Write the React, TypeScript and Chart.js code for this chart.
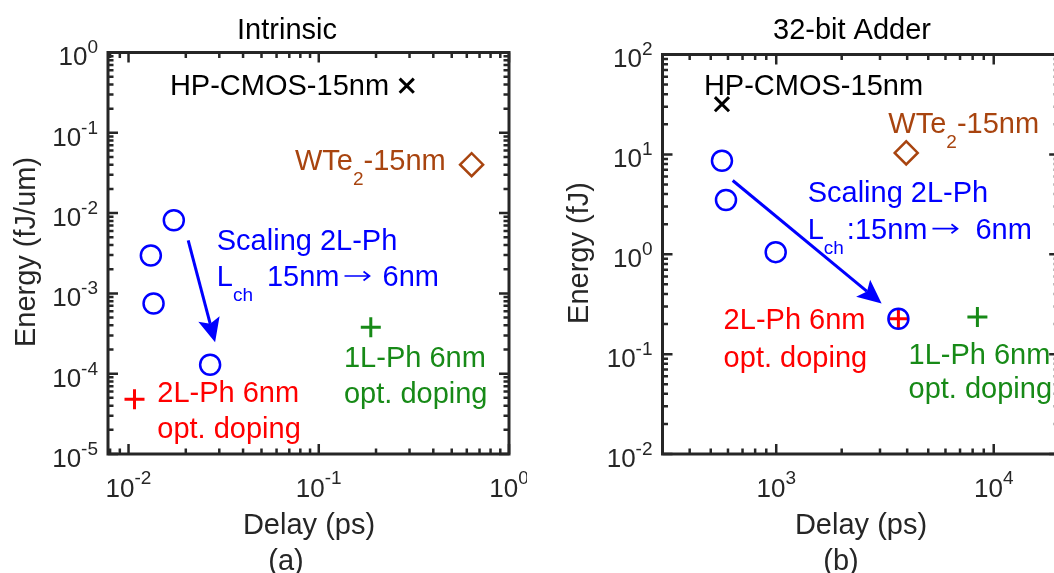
import React, { useEffect, useRef } from "react";
import { Chart, registerables } from "chart.js";

Chart.register(...registerables);

const FONT = '"Liberation Sans", Arial, Helvetica, sans-serif';
const INK = "#262626";
const BLUE = "#0000ff";
const RED = "#ff0000";
const GREEN = "#178a17";
const BROWN = "#a8440f";

// ---------- Panel (a): Intrinsic ----------
const A_DELAY_RANGE = [0.0078, 1];
const A_ENERGY_RANGE = [1e-5, 1];
const A_DELAY_TICKS = [1e-2, 1e-1, 1];
const A_ENERGY_TICKS = [1e-5, 1e-4, 1e-3, 1e-2, 1e-1, 1];
const A_SCALING_DELAY = [0.0173, 0.0131, 0.01354, 0.02685];
const A_SCALING_ENERGY = [0.00816, 0.002965, 0.000748, 0.0001294];
const A_CMOS_DELAY = [0.29];
const A_CMOS_ENERGY = [0.386];
const A_WTE2_DELAY = [0.636];
const A_WTE2_ENERGY = [0.0401];
const A_2LPH_OPT_DELAY = [0.01075];
const A_2LPH_OPT_ENERGY = [4.8e-5];
const A_1LPH_OPT_DELAY = [0.1877];
const A_1LPH_OPT_ENERGY = [3.8e-4];
const A_ARROW_FROM = [0.02059, 0.00458];
const A_ARROW_TO = [0.02851, 0.000247];

// ---------- Panel (b): 32-bit Adder ----------
const B_DELAY_RANGE = [300, 2e4];
const B_ENERGY_RANGE = [1e-2, 1e2];
const B_DELAY_TICKS = [1e3, 1e4];
const B_ENERGY_TICKS = [1e-2, 1e-1, 1, 1e1, 1e2];
const B_SCALING_DELAY = [563, 587.5, 994.5, 3645];
const B_SCALING_ENERGY = [8.64, 3.49, 1.05, 0.2263];
const B_CMOS_DELAY = [563];
const B_CMOS_ENERGY = [31.8];
const B_WTE2_DELAY = [3960];
const B_WTE2_ENERGY = [10.35];
const B_2LPH_OPT_DELAY = [3645];
const B_2LPH_OPT_ENERGY = [0.2263];
const B_1LPH_OPT_DELAY = [8413];
const B_1LPH_OPT_ENERGY = [0.2353];
const B_ARROW_FROM = [630.8, 5.475];
const B_ARROW_TO = [3052, 0.3212];

type Seg = { t: string; sub?: boolean; arrow?: boolean; dx?: number };
type Note = { at: number[]; segs: Seg[]; color: string };

const A_NOTES: Note[] = [
  { at: [0.0165, 0.297], segs: [{ t: "HP-CMOS-15nm" }], color: "#000" },
  { at: [0.075, 0.0347], segs: [{ t: "WTe" }, { t: "2", sub: true }, { t: "-15nm" }], color: BROWN },
  { at: [0.0291, 0.00352], segs: [{ t: "Scaling 2L-Ph" }], color: BLUE },
  {
    at: [0.0291, 0.001236],
    segs: [{ t: "L" }, { t: "ch", sub: true }, { t: "15nm", dx: 14 }, { t: "", arrow: true, dx: 5 }, { t: "6nm", dx: 13 }],
    color: BLUE,
  },
  { at: [0.01416, 4.48e-5], segs: [{ t: "2L-Ph 6nm" }], color: RED },
  { at: [0.01416, 1.58e-5], segs: [{ t: "opt. doping" }], color: RED },
  { at: [0.1357, 1.22e-4], segs: [{ t: "1L-Ph 6nm" }], color: GREEN },
  { at: [0.1357, 4.35e-5], segs: [{ t: "opt. doping" }], color: GREEN },
];

const B_NOTES: Note[] = [
  { at: [465, 39.5], segs: [{ t: "HP-CMOS-15nm" }], color: "#000" },
  { at: [3276, 16.4], segs: [{ t: "WTe" }, { t: "2", sub: true }, { t: "-15nm" }], color: BROWN },
  { at: [1395, 3.36], segs: [{ t: "Scaling 2L-Ph" }], color: BLUE },
  {
    at: [1395, 1.431],
    segs: [{ t: "L" }, { t: "ch", sub: true }, { t: ":15nm", dx: 3 }, { t: "", arrow: true, dx: 5 }, { t: "6nm", dx: 18 }],
    color: BLUE,
  },
  { at: [573, 0.1797], segs: [{ t: "2L-Ph 6nm" }], color: RED },
  { at: [573, 0.0748], segs: [{ t: "opt. doping" }], color: RED },
  { at: [4057, 0.0796], segs: [{ t: "1L-Ph 6nm" }], color: GREEN },
  { at: [4057, 0.0367], segs: [{ t: "opt. doping" }], color: GREEN },
];

const TEXT_SIZE = 29;
const SUB_SIZE = 19;
const TICK_SIZE = 26;
const SUP_SIZE = 19;

function pts(xs: number[], ys: number[]) {
  return xs.map((x, i) => ({ x, y: ys[i] }));
}

function marker(data: any[], style: string, color: string, radius: number, bw: number) {
  return {
    data,
    pointStyle: style,
    pointRadius: radius,
    pointHoverRadius: radius,
    borderColor: color,
    pointBorderColor: color,
    backgroundColor: "rgba(0,0,0,0)",
    pointBackgroundColor: "rgba(0,0,0,0)",
    pointBorderWidth: bw,
    pointHoverBorderWidth: bw,
    showLine: false,
    clip: false,
  };
}

function logTicks(range: number[]) {
  const out: { v: number; major: boolean }[] = [];
  const d0 = Math.floor(Math.log10(range[0]));
  const d1 = Math.ceil(Math.log10(range[1]));
  for (let d = d0; d <= d1; d++) {
    for (let k = 1; k <= 9; k++) {
      const v = k * Math.pow(10, d);
      if (v >= range[0] * 0.9999 && v <= range[1] * 1.0001) out.push({ v, major: k === 1 });
    }
  }
  return out;
}

function drawRich(ctx: CanvasRenderingContext2D, segs: Seg[], x: number, y: number, color: string) {
  ctx.fillStyle = color;
  ctx.strokeStyle = color;
  ctx.textAlign = "left";
  ctx.textBaseline = "alphabetic";
  let cx = x;
  for (const s of segs) {
    cx += s.dx || 0;
    if (s.arrow) {
      const len = 25;
      const ay = y - 10;
      ctx.lineWidth = 1.7;
      ctx.beginPath();
      ctx.moveTo(cx, ay);
      ctx.lineTo(cx + len, ay);
      ctx.moveTo(cx + len - 6, ay - 4.5);
      ctx.lineTo(cx + len, ay);
      ctx.lineTo(cx + len - 6, ay + 4.5);
      ctx.stroke();
      cx += len;
      continue;
    }
    ctx.font = `${s.sub ? SUB_SIZE : TEXT_SIZE}px ${FONT}`;
    ctx.fillText(s.t, cx, s.sub ? y + 15 : y);
    cx += ctx.measureText(s.t).width;
  }
}

function powerLabel(ctx: CanvasRenderingContext2D, v: number, x: number, baseY: number, supY: number, align: "center" | "right") {
  const exp = String(Math.round(Math.log10(v)));
  ctx.font = `${TICK_SIZE}px ${FONT}`;
  const wb = ctx.measureText("10").width;
  ctx.font = `${SUP_SIZE}px ${FONT}`;
  const ws = ctx.measureText(exp).width;
  const total = wb + ws;
  const left = align === "center" ? x - total / 2 : x - total;
  ctx.fillStyle = INK;
  ctx.textAlign = "left";
  ctx.textBaseline = "alphabetic";
  ctx.font = `${TICK_SIZE}px ${FONT}`;
  ctx.fillText("10", left, baseY);
  ctx.font = `${SUP_SIZE}px ${FONT}`;
  ctx.fillText(exp, left + wb, supY);
}

function drawArrow(ctx: CanvasRenderingContext2D, x0: number, y0: number, x1: number, y1: number, color: string) {
  const ang = Math.atan2(y1 - y0, x1 - x0);
  const c = Math.cos(ang), s = Math.sin(ang);
  const hl = 24, hw = 11, notch = 5;
  const bx = x1 - hl * c, by = y1 - hl * s;
  ctx.strokeStyle = color;
  ctx.fillStyle = color;
  ctx.lineWidth = 3;
  ctx.beginPath();
  ctx.moveTo(x0, y0);
  ctx.lineTo(bx + notch * c, by + notch * s);
  ctx.stroke();
  ctx.beginPath();
  ctx.moveTo(x1, y1);
  ctx.lineTo(bx - hw * s, by + hw * c);
  ctx.lineTo(bx + notch * c, by + notch * s);
  ctx.lineTo(bx + hw * s, by - hw * c);
  ctx.closePath();
  ctx.fill();
}

type Panel = {
  xRange: number[];
  yRange: number[];
  xTicks: number[];
  yTicks: number[];
  datasets: any[];
  notes: Note[];
  arrowFrom: number[];
  arrowTo: number[];
  title: string;
  xLabel: string;
  yLabel: string;
  tag: string;
  width: number;
  pad: { left: number; right: number; top: number; bottom: number };
  titleAt: number[];
  xLabelAt: number[];
  tagAt: number[];
  yLabelAt: number[];
};

function makeDecor(p: Panel) {
  return {
    id: "decor",
    beforeDatasetsDraw(chart: any) {
      const ctx: CanvasRenderingContext2D = chart.ctx;
      const { left, right, top, bottom } = chart.chartArea;
      const xs = chart.scales.x, ys = chart.scales.y;
      ctx.save();
      ctx.strokeStyle = INK;
      ctx.lineWidth = 2.5;
      ctx.lineCap = "butt";
      ctx.beginPath();
      for (const { v, major } of logTicks(p.xRange)) {
        const px = xs.getPixelForValue(v);
        const L = major ? 10 : 5.5;
        ctx.moveTo(px, bottom);
        ctx.lineTo(px, bottom - L);
        ctx.moveTo(px, top);
        ctx.lineTo(px, top + L);
      }
      for (const { v, major } of logTicks(p.yRange)) {
        const py = ys.getPixelForValue(v);
        const L = major ? 10 : 5.5;
        ctx.moveTo(left, py);
        ctx.lineTo(left + L, py);
        ctx.moveTo(right, py);
        ctx.lineTo(right - L, py);
      }
      ctx.stroke();
      ctx.lineWidth = 3;
      ctx.strokeRect(left, top, right - left, bottom - top);

      for (const v of p.xTicks) {
        const px = xs.getPixelForValue(v);
        powerLabel(ctx, v, px, bottom + 42.7, bottom + 29.5, "center");
      }
      for (const v of p.yTicks) {
        const py = ys.getPixelForValue(v);
        powerLabel(ctx, v, left - 10, py + 12.8, py + 0.8, "right");
      }

      ctx.fillStyle = "#000";
      ctx.font = `${TEXT_SIZE}px ${FONT}`;
      ctx.textAlign = "center";
      ctx.textBaseline = "alphabetic";
      ctx.fillText(p.title, p.titleAt[0], p.titleAt[1]);
      ctx.fillStyle = INK;
      ctx.fillText(p.xLabel, p.xLabelAt[0], p.xLabelAt[1]);
      ctx.fillText(p.tag, p.tagAt[0], p.tagAt[1]);
      ctx.save();
      ctx.translate(p.yLabelAt[0], p.yLabelAt[1]);
      ctx.rotate(-Math.PI / 2);
      ctx.fillText(p.yLabel, 0, 0);
      ctx.restore();
      ctx.restore();
    },
    afterDatasetsDraw(chart: any) {
      const ctx: CanvasRenderingContext2D = chart.ctx;
      const xs = chart.scales.x, ys = chart.scales.y;
      ctx.save();
      drawArrow(
        ctx,
        xs.getPixelForValue(p.arrowFrom[0]),
        ys.getPixelForValue(p.arrowFrom[1]),
        xs.getPixelForValue(p.arrowTo[0]),
        ys.getPixelForValue(p.arrowTo[1]),
        BLUE
      );
      for (const n of p.notes) {
        drawRich(ctx, n.segs, xs.getPixelForValue(n.at[0]), ys.getPixelForValue(n.at[1]), n.color);
      }
      ctx.restore();
    },
  };
}

const PANEL_A: Panel = {
  xRange: A_DELAY_RANGE,
  yRange: A_ENERGY_RANGE,
  xTicks: A_DELAY_TICKS,
  yTicks: A_ENERGY_TICKS,
  datasets: [
    marker(pts(A_SCALING_DELAY, A_SCALING_ENERGY), "circle", BLUE, 10, 2.5),
    marker(pts(A_CMOS_DELAY, A_CMOS_ENERGY), "crossRot", "#000", 10, 3),
    marker(pts(A_WTE2_DELAY, A_WTE2_ENERGY), "rectRot", BROWN, 11.5, 2.5),
    marker(pts(A_2LPH_OPT_DELAY, A_2LPH_OPT_ENERGY), "cross", RED, 10, 3),
    marker(pts(A_1LPH_OPT_DELAY, A_1LPH_OPT_ENERGY), "cross", GREEN, 10, 3),
  ],
  notes: A_NOTES,
  arrowFrom: A_ARROW_FROM,
  arrowTo: A_ARROW_TO,
  title: "Intrinsic",
  xLabel: "Delay (ps)",
  yLabel: "Energy (fJ/um)",
  tag: "(a)",
  width: 527,
  pad: { left: 108, right: 18, top: 52.5, bottom: 119 },
  titleAt: [287, 38.5],
  xLabelAt: [309, 534],
  tagAt: [286, 569.5],
  yLabelAt: [35, 252],
};

const PANEL_B: Panel = {
  xRange: B_DELAY_RANGE,
  yRange: B_ENERGY_RANGE,
  xTicks: B_DELAY_TICKS,
  yTicks: B_ENERGY_TICKS,
  datasets: [
    marker(pts(B_SCALING_DELAY, B_SCALING_ENERGY), "circle", BLUE, 10, 2.5),
    marker(pts(B_CMOS_DELAY, B_CMOS_ENERGY), "crossRot", "#000", 10, 3),
    marker(pts(B_WTE2_DELAY, B_WTE2_ENERGY), "rectRot", BROWN, 11.5, 2.5),
    marker(pts(B_2LPH_OPT_DELAY, B_2LPH_OPT_ENERGY), "cross", RED, 10, 3),
    marker(pts(B_1LPH_OPT_DELAY, B_1LPH_OPT_ENERGY), "cross", GREEN, 10, 3),
  ],
  notes: B_NOTES,
  arrowFrom: B_ARROW_FROM,
  arrowTo: B_ARROW_TO,
  title: "32-bit Adder",
  xLabel: "Delay (ps)",
  yLabel: "Energy (fJ)",
  tag: "(b)",
  width: 560,
  pad: { left: 135.5, right: 27.8, top: 54.5, bottom: 119 },
  titleAt: [325, 38.5],
  xLabelAt: [334, 534],
  tagAt: [314, 569.5],
  yLabelAt: [61, 253],
};

function buildChart(canvas: HTMLCanvasElement, p: Panel) {
  return new Chart(canvas, {
    type: "scatter",
    data: { datasets: p.datasets },
    options: {
      animation: false,
      responsive: false,
      maintainAspectRatio: false,
      devicePixelRatio: 1,
      layout: { padding: p.pad },
      events: [],
      plugins: { legend: { display: false }, tooltip: { enabled: false }, title: { display: false } },
      scales: {
        x: { type: "logarithmic", min: p.xRange[0], max: p.xRange[1], display: false },
        y: { type: "logarithmic", min: p.yRange[0], max: p.yRange[1], display: false },
      },
    } as any,
    plugins: [makeDecor(p) as any],
  });
}

export default function App() {
  const refA = useRef<HTMLCanvasElement>(null);
  const refB = useRef<HTMLCanvasElement>(null);

  useEffect(() => {
    const ca = buildChart(refA.current as HTMLCanvasElement, PANEL_A);
    const cb = buildChart(refB.current as HTMLCanvasElement, PANEL_B);
    return () => {
      ca.destroy();
      cb.destroy();
    };
  }, []);

  return (
    <div
      style={{
        position: "fixed",
        left: 0,
        top: 0,
        width: 1054,
        height: 573,
        overflow: "hidden",
        background: "#ffffff",
      }}
    >
      <canvas
        ref={refA}
        width={PANEL_A.width}
        height={573}
        style={{ position: "absolute", left: 0, top: 0, width: PANEL_A.width, height: 573 }}
      />
      <canvas
        ref={refB}
        width={PANEL_B.width}
        height={573}
        style={{ position: "absolute", left: 527, top: 0, width: PANEL_B.width, height: 573 }}
      />
    </div>
  );
}
